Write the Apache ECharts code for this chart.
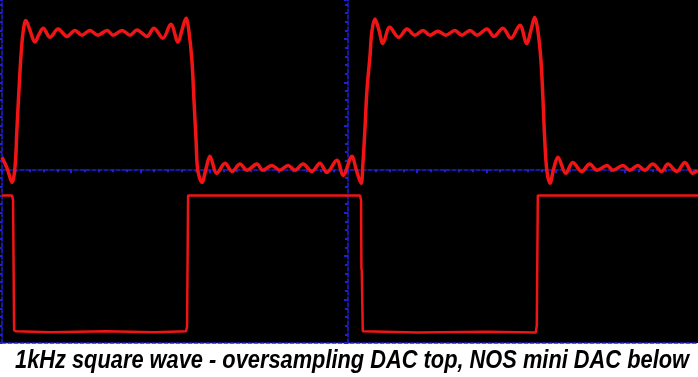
<!DOCTYPE html>
<html>
<head>
<meta charset="utf-8">
<script src="https://cdn.jsdelivr.net/npm/echarts@6/dist/echarts.min.js"></script>
<style>
  html, body { margin: 0; padding: 0; background: #fff; }
  #scope { width: 698px; height: 377px; }
</style>
</head>
<body>
<div id="scope"></div>
<script>
// time in µs (0 = screen centre, 200 µs/div), level in divisions
var topTrace = [
  [-1000, 0.28], [-985, 0.02], [-971, -0.30], [-962, 0.09], [-957, 0.90], [-951, 1.82],
  [-945, 2.63], [-939, 3.16], [-931, 3.43], [-919, 3.20], [-905, 2.93], [-893, 3.11],
  [-881, 3.25], [-861, 3.04], [-838, 3.23], [-812, 3.06], [-789, 3.20], [-769, 3.09],
  [-746, 3.20], [-723, 3.09], [-696, 3.20], [-679, 3.09], [-653, 3.20], [-630, 3.09],
  [-610, 3.21], [-581, 3.06], [-561, 3.25], [-535, 3.02], [-512, 3.34], [-491, 2.93],
  [-480, 3.20], [-468, 3.48], [-460, 3.20], [-451, 2.51], [-445, 1.59], [-439, 0.67],
  [-434, -0.02], [-422, -0.30], [-410, 0.02], [-399, 0.30], [-379, -0.09], [-355, 0.14],
  [-335, -0.05], [-312, 0.12], [-292, -0.02], [-263, 0.12], [-246, -0.02], [-220, 0.09],
  [-197, -0.02], [-173, 0.09], [-153, -0.02], [-130, 0.12], [-104, -0.05], [-81, 0.14],
  [-61, -0.07], [-32, 0.21], [-14, -0.14], [12, 0.30], [23, 0.02], [38, -0.32],
  [43, 0.09], [49, 0.90], [55, 1.82], [64, 2.63], [69, 3.16], [78, 3.46],
  [90, 3.20], [101, 2.90], [121, 3.27], [147, 3.04], [171, 3.23], [194, 3.09],
  [217, 3.20], [237, 3.09], [260, 3.18], [283, 3.09], [309, 3.20], [329, 3.09],
  [353, 3.20], [373, 3.09], [402, 3.23], [422, 3.06], [448, 3.25], [471, 3.02],
  [497, 3.32], [517, 2.90], [529, 3.20], [540, 3.50], [549, 3.20], [558, 2.51],
  [564, 1.59], [569, 0.67], [575, -0.02], [584, -0.32], [595, 0.02], [607, 0.28],
  [630, -0.09], [650, 0.16], [676, -0.05], [699, 0.12], [720, -0.02], [749, 0.09],
  [766, -0.02], [795, 0.09], [815, -0.02], [838, 0.09], [858, -0.02], [881, 0.12],
  [907, -0.05], [925, 0.12], [951, -0.05], [974, 0.16], [997, -0.09], [1010, -0.02]
];
var bottomTrace = [
  [-1000, -0.60], [-971, -0.60], [-968, -0.71], [-965, -3.71], [-959, -3.73],
  [-860, -3.75], [-700, -3.73], [-560, -3.75], [-468, -3.73], [-465, -3.62],
  [-462, -0.60], [35, -0.60], [38, -0.71], [39, -2.28], [40, -2.33], [43, -3.73],
  [200, -3.76], [400, -3.74], [543, -3.76], [546, -3.59], [549, -0.60], [1012, -0.60]
];
var titleText = "1kHz square wave - oversampling DAC top, NOS mini DAC below";

var gridBlue = "#1f1fd6";
var titleFont = 'italic bold 25px "Liberation Sans", Arial, sans-serif';

// squeeze the caption to the narrow width it has in the scope shot
var ctx = document.createElement("canvas").getContext("2d");
ctx.font = titleFont;
var titleScale = 674 / ctx.measureText(titleText).width;

var chart = echarts.init(document.getElementById("scope"));

function scopeAxis(extra) {
  return Object.assign({
    type: "value",
    axisLine: { show: true, lineStyle: { color: gridBlue, width: 1.5, type: [4, 2] } },
    axisTick: { show: true, length: 4, lineStyle: { color: gridBlue, width: 2 } },
    minorTick: { show: true, splitNumber: 5, length: 3, lineStyle: { color: gridBlue, width: 2 } },
    axisLabel: { show: false },
    splitLine: { show: false }
  }, extra);
}

chart.setOption({
  animation: false,
  backgroundColor: "#fff",
  graphic: [
    {
      type: "rect",
      z: -100,
      shape: { x: 0, y: 0, width: 698, height: 343 },
      style: { fill: "#000" }
    },
    {
      type: "text",
      x: 352,
      y: 361,
      scaleX: titleScale,
      style: {
        text: titleText,
        font: titleFont,
        fill: "#000",
        textAlign: "center",
        textVerticalAlign: "middle"
      }
    }
  ],
  grid: { left: 2, right: 0, top: 0, bottom: 34 },
  xAxis: [
    scopeAxis({ min: -1000, max: 1012, interval: 200, axisLine: { show: true, onZero: true, lineStyle: { color: gridBlue, width: 1.5, type: [4, 2] } } }),
    scopeAxis({ min: -1000, max: 1012, interval: 200, position: "bottom", axisLine: { show: true, onZero: false, lineStyle: { color: gridBlue, width: 1.5, type: [4, 2] } }, axisTick: { show: false }, minorTick: { show: false } })
  ],
  yAxis: [
    scopeAxis({ min: -4, max: 3.9, interval: 1, axisLine: { show: true, onZero: true, lineStyle: { color: gridBlue, width: 1.5, type: [4, 2] } } }),
    scopeAxis({ min: -4, max: 3.9, interval: 1, position: "left", axisLine: { show: true, onZero: false, lineStyle: { color: gridBlue, width: 1.5, type: [4, 2] } } })
  ],
  series: [
    {
      name: "oversampling DAC",
      type: "line",
      xAxisIndex: 0,
      yAxisIndex: 0,
      data: topTrace,
      smooth: 0.35,
      showSymbol: false,
      clip: false,
      lineStyle: { color: "#f01414", width: 3.5 },
      z: 5
    },
    {
      name: "NOS mini DAC",
      type: "line",
      xAxisIndex: 0,
      yAxisIndex: 0,
      data: bottomTrace,
      showSymbol: false,
      clip: false,
      lineStyle: { color: "#f01414", width: 2.5 },
      z: 5
    }
  ]
});
</script>
</body>
</html>
